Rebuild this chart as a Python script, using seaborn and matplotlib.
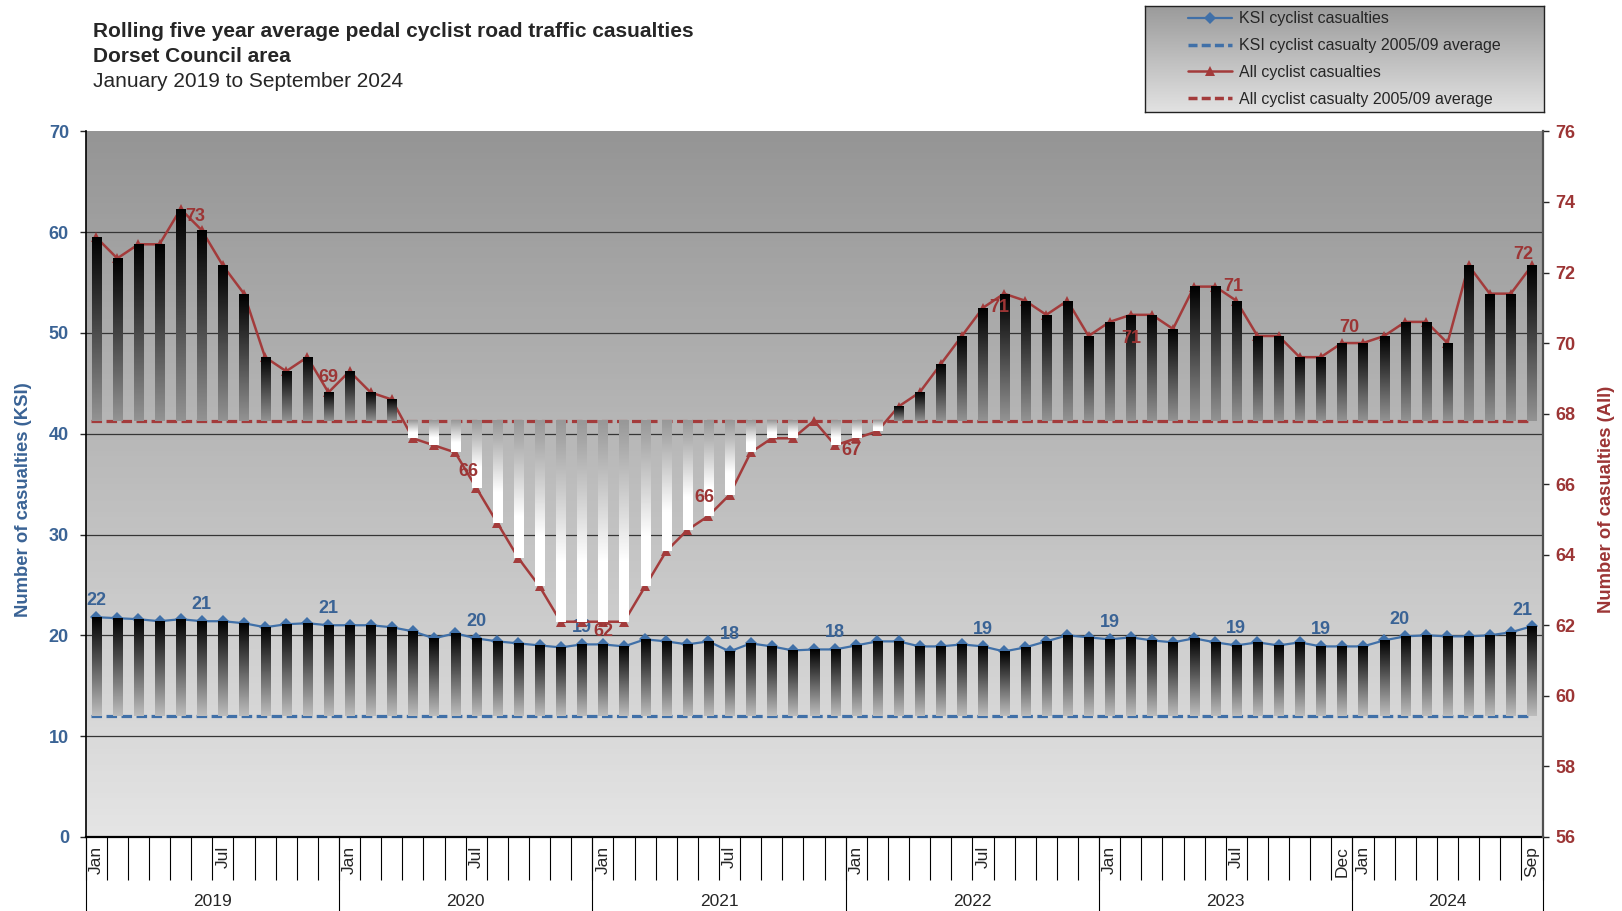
import matplotlib
matplotlib.use("Agg")
import matplotlib.pyplot as plt
import numpy as np
import pandas as pd
import seaborn as sns
from matplotlib.colors import LinearSegmentedColormap
from matplotlib.lines import Line2D

# Данные: скользящее пятилетнее среднее по месяцам
months = pd.date_range("2019-01-01", "2024-09-01", freq="MS")
years = ["2019", "2020", "2021", "2022", "2023", "2024"]

ksi = [21.8, 21.7, 21.6, 21.4, 21.6, 21.4, 21.4, 21.2, 20.8, 21.1, 21.2, 21.0,
       21.0, 21.0, 20.8, 20.4, 19.7, 20.2, 19.7, 19.4, 19.2, 19.0, 18.8, 19.1,
       19.1, 18.9, 19.6, 19.4, 19.1, 19.4, 18.4, 19.2, 18.9, 18.5, 18.6, 18.6,
       19.0, 19.4, 19.4, 18.9, 18.9, 19.1, 18.9, 18.4, 18.8, 19.4, 20.0, 19.8,
       19.6, 19.8, 19.5, 19.3, 19.7, 19.3, 19.0, 19.3, 19.0, 19.3, 18.9, 18.9,
       18.9, 19.5, 19.9, 20.0, 19.9, 19.9, 20.0, 20.3, 20.9]

all_cyclists = [73.0, 72.4, 72.8, 72.8, 73.8, 73.2, 72.2, 71.4, 69.6, 69.2, 69.6, 68.6,
                69.2, 68.6, 68.4, 67.3, 67.1, 66.9, 65.9, 64.9, 63.9, 63.1, 62.1, 62.1,
                62.1, 62.1, 63.1, 64.1, 64.7, 65.1, 65.7, 66.9, 67.3, 67.3, 67.8, 67.1,
                67.3, 67.5, 68.2, 68.6, 69.4, 70.2, 71.0, 71.4, 71.2, 70.8, 71.2, 70.2,
                70.6, 70.8, 70.8, 70.4, 71.6, 71.6, 71.2, 70.2, 70.2, 69.6, 69.6, 70.0,
                70.0, 70.2, 70.6, 70.6, 70.0, 72.2, 71.4, 71.4, 72.2]

ksi_base = 12.0     # KSI 2005/09 average
all_base = 67.8     # All 2005/09 average

ksi_labels = {0: "22", 5: "21", 11: "21", 18: "20", 23: "19", 30: "18", 35: "18",
              42: "19", 48: "19", 54: "19", 58: "19", 62: "20", 68: "21"}
all_labels = {5: "73", 11: "69", 18: "66", 24: "62", 30: "66", 35: "67", 42: "71",
              49: "71", 54: "71", 59: "70", 68: "72"}

# смещения подписей (в пунктах)
ksi_offsets = {62: (-4, 12), 68: (-7, 11)}
all_offsets = {5: (-5, 10), 11: (0, 11), 18: (-6, 12), 24: (0, -7), 30: (-18, -2),
               35: (12, -4), 42: (12, 0), 49: (0, -17), 54: (-2, 10), 59: (5, 11),
               68: (-6, 8)}

sns.set_style("white")
plt.rcParams["font.family"] = ["Liberation Sans", "DejaVu Sans"]

KSI_COL = "#4070a8"
ALL_COL = "#a33b3b"
KSI_TXT = "#3a6395"
ALL_TXT = "#9c3535"

df = pd.DataFrame({"month": months, "ksi": ksi, "all": all_cyclists})
df["pos"] = np.arange(len(df))

bg_cmap = LinearSegmentedColormap.from_list("bg", ["#959595", "#e5e5e5"])
up_cmap = LinearSegmentedColormap.from_list("up", ["#000000", "#939393"])
ksi_cmap = LinearSegmentedColormap.from_list("ksi", ["#000000", "#bdbdbd"])
down_cmap = LinearSegmentedColormap.from_list("down", [(0, "#989898"), (0.7, "#ffffff"), (1, "#ffffff")])
grad = np.linspace(0, 1, 128).reshape(-1, 1)


def gradient_bars(axis, bars, cmap):
    """Заливка столбцов градиентом сверху вниз"""
    for bar in bars:
        x0, y0 = bar.get_xy()
        axis.imshow(grad, cmap=cmap, extent=[x0, x0 + bar.get_width(), y0, y0 + bar.get_height()],
                    origin="upper", aspect="auto", zorder=3, interpolation="bilinear")


fig = plt.figure(figsize=(16.22, 9.11), dpi=100)
ax = fig.add_axes([85.6 / 1622, 1 - 836.9 / 911, 1456.9 / 1622, 705.5 / 911])
ax2 = ax.twinx()

# фон области построения
ax.imshow(grad, cmap=bg_cmap, extent=[0, 1, 0, 1], transform=ax.transAxes,
          origin="upper", aspect="auto", zorder=0)
for g in range(10, 61, 10):
    ax.axhline(g, color="#353535", lw=0.9, zorder=1)

# KSI
ax.plot([-0.25, 68], [ksi_base, ksi_base], color=KSI_COL, lw=2.3,
        ls=(0, (3.3, 1.4)), zorder=2)
sns.lineplot(data=df, x="pos", y="ksi", ax=ax, color=KSI_COL, lw=1.6, marker="D",
             markersize=6, markeredgewidth=0, zorder=2.5, legend=False)
ksi_bars = ax.bar(df["pos"], df["ksi"] - ksi_base, bottom=ksi_base, width=0.43,
                  color="none", edgecolor="none")
gradient_bars(ax, ksi_bars, ksi_cmap)

# All
ax2.plot([-0.25, 68], [all_base, all_base], color=ALL_COL, lw=2.3,
         ls=(0, (3.3, 1.4)), zorder=2)
sns.lineplot(data=df, x="pos", y="all", ax=ax2, color=ALL_COL, lw=1.8, marker="^",
             markersize=6.5, markeredgewidth=0, zorder=2.5, legend=False)
up = df[df["all"] >= all_base]
down = df[df["all"] < all_base]
up_bars = ax2.bar(up["pos"], up["all"] - all_base, bottom=all_base, width=0.43,
                  color="none", edgecolor="none")
down_bars = ax2.bar(down["pos"], all_base - down["all"], bottom=down["all"], width=0.43,
                    color="none", edgecolor="none")
gradient_bars(ax2, up_bars, up_cmap)
gradient_bars(ax2, down_bars, down_cmap)

# подписи данных
for i, txt in ksi_labels.items():
    ax.annotate(txt, (i, ksi[i]), xytext=ksi_offsets.get(i, (0, 12)), textcoords="offset points",
                ha="center", va="center", color=KSI_TXT, fontsize=13, fontweight="bold", zorder=5)
for i, txt in all_labels.items():
    ax2.annotate(txt, (i, all_cyclists[i]), xytext=all_offsets[i], textcoords="offset points",
                 ha="center", va="center", color=ALL_TXT, fontsize=13, fontweight="bold", zorder=5)

# оси
ax.set_xlim(-0.5, len(df) - 0.5)
ax.set_ylim(0, 70)
ax2.set_ylim(56, 76)
ax.set_yticks(range(0, 71, 10))
ax2.set_yticks(range(56, 77, 2))
ax.tick_params(axis="y", direction="out", length=4, width=1, pad=8, labelcolor=KSI_TXT, labelsize=13)
ax2.tick_params(axis="y", direction="out", length=4.3, width=1, pad=5, labelcolor=ALL_TXT, labelsize=13)
for lab in ax.get_yticklabels():
    lab.set_fontweight("bold")
for lab in ax2.get_yticklabels():
    lab.set_fontweight("bold")

ax.set_xticks(np.arange(-0.5, len(df), 1))
ax.set_xticklabels([])
ax.tick_params(axis="x", direction="in", length=4, width=1)
ax.set_xlabel("")
ax2.set_xlabel("")
ax.set_ylabel("Number of casualties (KSI)", color=KSI_TXT, fontsize=13.3, fontweight="bold")
ax2.set_ylabel("Number of casualties (All)", color=ALL_TXT, fontsize=13.3, fontweight="bold")
ax.yaxis.set_label_coords(-0.0368, 0.4775)
ax2.yaxis.set_label_coords(1.0381, 0.478)

for s in ["top", "right"]:
    ax.spines[s].set_visible(False)
for s in ["top", "left", "bottom"]:
    ax2.spines[s].set_visible(False)
ax.spines["left"].set_color("black")
ax.spines["left"].set_linewidth(1.2)
ax.spines["bottom"].set_color("black")
ax.spines["bottom"].set_linewidth(1.6)
ax2.spines["right"].set_color("#505050")
ax2.spines["right"].set_linewidth(1.6)

# многоуровневая ось категорий
xt = ax.get_xaxis_transform()
ax.vlines(np.arange(-0.5, len(df), 1), -0.061, 0, transform=xt, clip_on=False, color="black", lw=0.8)
year_edges = [-0.5] + [i - 0.5 for i in df.index if df["month"][i].month == 1 and i > 0] + [len(df) - 0.5]
ax.vlines(year_edges, -0.106, 0, transform=xt, clip_on=False, color="black", lw=0.8)
last_year = df["month"].iloc[-1].year
for i, m in enumerate(df["month"]):
    txt = None
    if m.month == 1 or (m.month == 7 and m.year != last_year):
        txt = m.strftime("%b")
    if m == pd.Timestamp("2023-12-01") or i == len(df) - 1:
        txt = m.strftime("%b")
    if txt:
        ax.text(i, -0.013, txt, rotation=90, ha="center", va="top", transform=xt, fontsize=12.5)
for k, y in enumerate(years):
    ax.text((year_edges[k] + year_edges[k + 1]) / 2, -0.092, y, ha="center", va="center",
            transform=xt, fontsize=12.5)

# заголовок
fig.text(93 / 1622, 0.965, "Rolling five year average pedal cyclist road traffic casualties",
         fontsize=15, fontweight="bold", va="center")
fig.text(93 / 1622, 0.9378, "Dorset Council area", fontsize=15, fontweight="bold", va="center")
fig.text(93 / 1622, 0.910, "January 2019 to September 2024", fontsize=15, va="center")

# легенда на градиентном фоне
lax = fig.add_axes([1145 / 1622, 1 - 112 / 911, 399 / 1622, 106 / 911])
lax.imshow(grad, cmap=LinearSegmentedColormap.from_list("lg", ["#9a9a9a", "#e2e2e2"]),
           extent=[0, 1, 0, 1], origin="upper", aspect="auto")
lax.set_xlim(0, 1)
lax.set_ylim(0, 1)
lax.set_xticks([])
lax.set_yticks([])
for s in lax.spines.values():
    s.set_color("#222222")
    s.set_linewidth(1)
handles = [
    Line2D([], [], color=KSI_COL, lw=1.6, marker="D", markersize=6, markeredgewidth=0),
    Line2D([], [], color=KSI_COL, lw=2.5, ls=(0, (2.6, 1.2))),
    Line2D([], [], color=ALL_COL, lw=1.8, marker="^", markersize=7, markeredgewidth=0),
    Line2D([], [], color=ALL_COL, lw=2.5, ls=(0, (2.6, 1.2))),
]
labels = ["KSI cyclist casualties", "KSI cyclist casualty 2005/09 average",
          "All cyclist casualties", "All cyclist casualty 2005/09 average"]
lax.legend(handles, labels, loc="center", frameon=False, fontsize=11.5,
           handlelength=2.7, handletextpad=0.45, labelspacing=0.74)

fig.savefig("out.png", dpi=100)
